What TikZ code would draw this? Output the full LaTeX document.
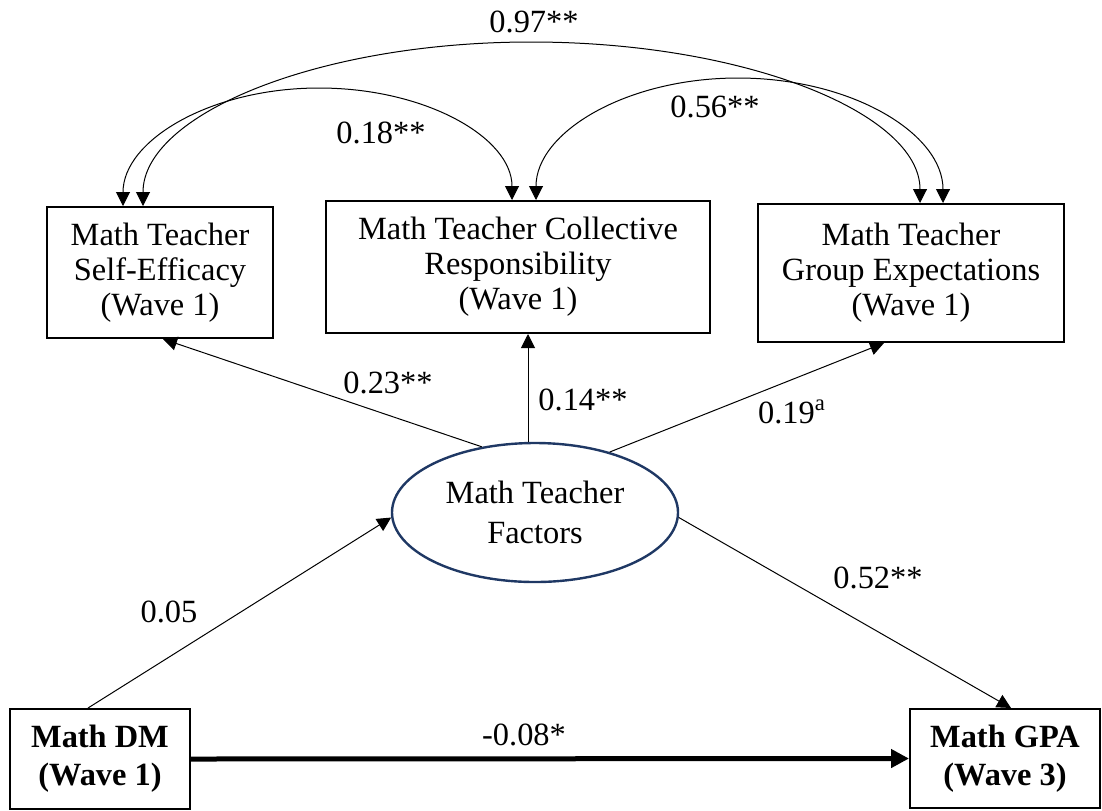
\documentclass[tikz,border=0pt]{standalone}
\usepackage{fontspec}
\setmainfont{Liberation Serif}
\usetikzlibrary{arrows.meta,shapes.geometric}
\definecolor{latentblue}{RGB}{31,56,100}

\begin{document}
\begin{tikzpicture}[
  x=0.5pt, y=-0.5pt,
  font=\fontsize{16.2}{17.5}\selectfont,
  box/.style={rectangle, draw=black, line width=1pt, align=center, inner sep=2pt},
  obs/.style={box, font=\fontsize{16.2}{19}\selectfont\bfseries},
  latent/.style={ellipse, draw=latentblue, line width=1.2pt, align=center, inner sep=0pt,
              minimum width=143pt, minimum height=69.5pt, font=\fontsize{16.2}{20}\selectfont},
  arr/.style={-{Triangle[length=7pt,width=7pt]}, line width=0.5pt},
  cov/.style={{Triangle[length=7pt,width=7pt]}-{Triangle[length=7pt,width=7pt]}, line width=0.5pt},
  bigarr/.style={-{Triangle[length=9pt,width=9pt]}, line width=2.5pt},
  coef/.style={inner sep=0pt}
]
\useasboundingbox (0,0) rectangle (1102,810);
% teacher measures (wave 1)
\node[box, minimum width=113pt, minimum height=65.5pt] (se) at (160,272.5) {Math Teacher\\Self-Efficacy\\(Wave 1)};
\node[box, minimum width=192pt, minimum height=66pt] (cr) at (518,267) {Math Teacher Collective\\Responsibility\\(Wave 1)};
\node[box, minimum width=153pt, minimum height=69pt] (ge) at (911,273) {Math Teacher\\Group Expectations\\(Wave 1)};
\node[latent] (mtf) at (535,512.5) {Math Teacher\\Factors};
\node[obs, minimum width=90pt, minimum height=50pt] (dm) at (100,759) {Math DM\\(Wave 1)};
\node[obs, minimum width=95pt, minimum height=49.5pt] (gpa) at (1005,758.5) {Math GPA\\(Wave 3)};
% covariances (tops of the arcs)
\coordinate (top18) at (319,88);
\coordinate (top56) at (738,78);
\coordinate (top97) at (531,42);
\draw[cov] ([xshift=-18.5pt]se.north) .. controls +(0,-65.7) and +(-108.3,0) .. (top18)
           .. controls +(106.6,0) and +(0,-62.4) .. ([xshift=-3pt]cr.north);
\draw[cov] ([xshift=9pt]cr.north) .. controls +(0,-67.9) and +(-111.6,0) .. (top56)
           .. controls +(113.2,0) and +(0,-69.6) .. ([xshift=16pt]ge.north);
\draw[cov] ([xshift=-8.5pt]se.north) .. controls +(0,-91.1) and +(-214.3,0) .. (top97)
           .. controls +(214.8,0) and +(0,-89.5) .. ([xshift=4.5pt]ge.north);
% paths
\draw[arr] (mtf.129) -- ([xshift=1.5pt]se.south);
\draw[arr] ([xshift=-3.5pt]mtf.north) -- ([xshift=-3.5pt]mtf.north |- cr.south);
\draw[arr] (mtf.39) -- ([xshift=-13.5pt]ge.south);
\draw[arr] ([xshift=-6pt]dm.north) -- (mtf.182);
\draw[arr] (mtf.358) -- ([xshift=3pt]gpa.north);
\draw[bigarr] (dm.east) -- (gpa.west);
% coefficients
\node[coef] (c97) at (534,22) {0.97**};
\node[coef] (c18) at (381,133) {0.18**};
\node[coef] (c56) at (715,107) {0.56**};
\node[coef] (c23) at (388,383) {0.23**};
\node[coef] (c14) at (583,400) {0.14**};
\node[coef] (c19) at (792,412) {0.19\textsuperscript{a}};
\node[coef] (c05) at (169,612) {0.05};
\node[coef] (c52) at (878,578) {0.52**};
\node[coef] (c08) at (524,735) {-0.08*};
\end{tikzpicture}
\end{document}
